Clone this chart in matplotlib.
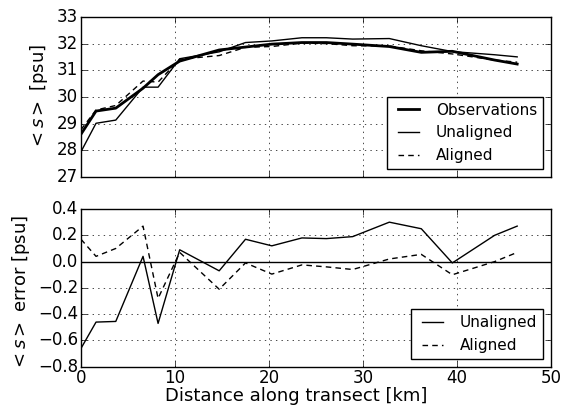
import numpy as np
import matplotlib
matplotlib.use("Agg")
import matplotlib.pyplot as plt

# distance along the transect [km]
dist = [0.0, 1.6, 3.7, 6.6, 8.2, 10.5, 14.7, 17.5, 20.3, 23.5, 26.1, 28.9, 32.8, 36.2, 39.5, 44.0, 46.4]

# depth-averaged salinity [psu]
obs = [28.60, 29.47, 29.58, 30.33, 30.84, 31.35, 31.77, 31.88, 31.99, 32.05, 32.05, 31.99, 31.90, 31.68, 31.72, 31.39, 31.24]
unaligned = [27.94, 29.01, 29.13, 30.37, 30.37, 31.44, 31.70, 32.05, 32.11, 32.23, 32.23, 32.18, 32.20, 31.93, 31.71, 31.59, 31.51]
aligned = [28.77, 29.51, 29.68, 30.60, 30.56, 31.42, 31.56, 31.87, 31.90, 32.03, 32.01, 31.93, 31.92, 31.74, 31.62, 31.39, 31.31]

# model - observation error [psu]
err_unaligned = [-0.66, -0.46, -0.455, 0.04, -0.47, 0.09, -0.07, 0.17, 0.12, 0.18, 0.175, 0.19, 0.30, 0.25, -0.01, 0.20, 0.27]
err_aligned = [0.17, 0.04, 0.10, 0.27, -0.28, 0.07, -0.21, -0.01, -0.095, -0.025, -0.04, -0.06, 0.02, 0.055, -0.10, 0.0, 0.07]

plt.style.use("classic")
plt.rcParams["font.size"] = 12
plt.rcParams["mathtext.fontset"] = "dejavusans"
plt.rcParams["xtick.major.pad"] = 1.5
plt.rcParams["ytick.major.pad"] = 2

DASH = (4, 3)

fig = plt.figure(figsize=(5.64, 4.08), dpi=100, facecolor="white")
ax1 = fig.add_axes([0.1436, 0.567, 0.8334, 0.3906])
ax2 = fig.add_axes([0.1436, 0.101, 0.8334, 0.3867])

ax1.plot(dist, obs, "k-", lw=2, label="Observations")
ax1.plot(dist, unaligned, "k-", lw=1, label="Unaligned")
ax1.plot(dist, aligned, "k--", lw=1, dashes=DASH, label="Aligned")
ax1.set_xlim(0, 50)
ax1.set_ylim(27, 33)
ax1.set_xticklabels([])
ax1.set_ylabel(r"$<s>$ [psu]", fontsize=13)
ax1.yaxis.set_label_coords(-0.066, 0.5)
ax1.grid(True)
ax1.legend(loc="lower right", fontsize=11)

ax2.plot(dist, err_unaligned, "k-", lw=1, label="Unaligned")
ax2.plot(dist, err_aligned, "k--", lw=1, dashes=DASH, label="Aligned")
ax2.axhline(0, color="k", lw=1)
ax2.set_xlim(0, 50)
ax2.set_ylim(-0.8, 0.4)
ax2.set_ylabel(r"$<s>$ error [psu]", fontsize=13)
ax2.yaxis.set_label_coords(-0.104, 0.47)
ax2.set_xlabel("Distance along transect [km]", fontsize=13)
ax2.xaxis.set_label_coords(0.4585, -0.128)
ax2.grid(True)
ax2.legend(loc="lower right", fontsize=11)

fig.savefig("out.png", dpi=100, facecolor="white")
